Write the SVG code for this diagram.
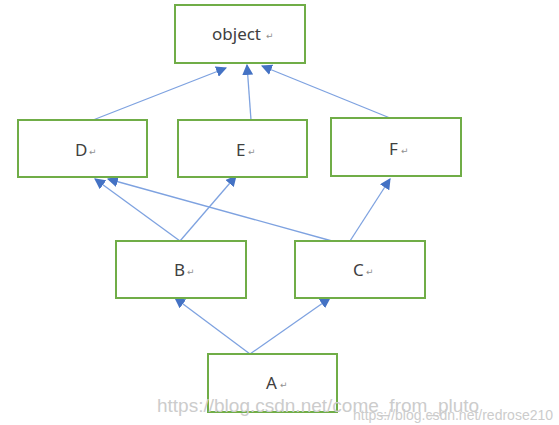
<svg xmlns="http://www.w3.org/2000/svg" width="559" height="425" viewBox="0 0 559 425">
<style>
.box{fill:#fff;stroke:#70ad47;stroke-width:2}
.lbl{font-family:"Noto Sans","DejaVu Sans",sans-serif;font-size:17px;fill:#404040}
.pm{font-family:"DejaVu Sans",sans-serif;font-size:9px;fill:#909090}
.edge{stroke:#7ea2e0;stroke-width:1.3;fill:none;marker-end:url(#ah)}
.wm{font-family:"Liberation Sans",Arial,sans-serif;fill:#cccccc}
</style>
<defs>
<marker id="ah" viewBox="0 0 10 10" refX="9" refY="5" markerWidth="11" markerHeight="11" markerUnits="userSpaceOnUse" orient="auto">
<path d="M0,0 L10,5 L0,10 z" fill="#4472c4"/>
</marker>
</defs>
<rect width="559" height="425" fill="#fff"/>
<g id="connectors">
<line class="edge" x1="93" y1="120" x2="226" y2="68"/>
<line class="edge" x1="251" y1="120" x2="247" y2="65"/>
<line class="edge" x1="390" y1="118" x2="262" y2="66"/>
<line class="edge" x1="180" y1="241" x2="95" y2="179"/>
<line class="edge" x1="180" y1="241" x2="236" y2="176"/>
<line class="edge" x1="332" y1="241" x2="108" y2="179"/>
<line class="edge" x1="350" y1="241" x2="390" y2="179"/>
<line class="edge" x1="250" y1="354" x2="175" y2="298"/>
<line class="edge" x1="250" y1="354" x2="330" y2="298"/>
</g>
<g id="object"><rect class="box" x="175" y="5" width="130" height="58"/><text class="lbl" x="212" y="40">object</text><text class="pm" x="266" y="39">↵</text></g>
<g id="D"><rect class="box" x="18" y="120" width="129" height="57"/><text class="lbl" x="75" y="156">D</text><text class="pm" x="89" y="155">↵</text></g>
<g id="E"><rect class="box" x="178" y="120" width="129" height="57"/><text class="lbl" x="236" y="156">E</text><text class="pm" x="248" y="155">↵</text></g>
<g id="F"><rect class="box" x="331" y="118" width="130" height="58"/><text class="lbl" x="389" y="155">F</text><text class="pm" x="401" y="154">↵</text></g>
<g id="B"><rect class="box" x="116" y="241" width="130" height="57"/><text class="lbl" x="174" y="276">B</text><text class="pm" x="187" y="275">↵</text></g>
<g id="C"><rect class="box" x="295" y="241" width="130" height="57"/><text class="lbl" x="353" y="276">C</text><text class="pm" x="366" y="275">↵</text></g>
<g id="A"><rect class="box" x="208" y="354" width="129" height="58"/><text class="lbl" x="266" y="389">A</text><text class="pm" x="280" y="388">↵</text></g>
<text class="wm" x="157" y="412" font-size="19">https://blog.csdn.net/come_from_pluto</text>
<text class="wm" x="353" y="420" font-size="14" fill="#bdbdbd">https://blog.csdn.net/redrose210</text>
</svg>
